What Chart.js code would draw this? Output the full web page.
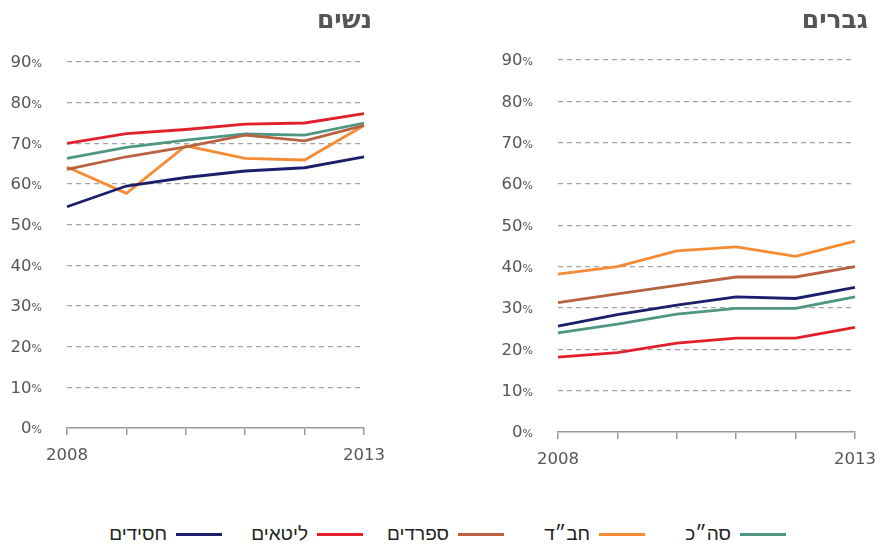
<!DOCTYPE html>
<html lang="he">
<head>
<meta charset="utf-8">
<script src="https://cdn.jsdelivr.net/npm/chart.js@4.4.1/dist/chart.umd.min.js"></script>
<style>
  html, body { margin: 0; padding: 0; background: #fff; width: 884px; height: 544px; overflow: hidden; }
  .panel { position: absolute; top: 0; width: 440px; height: 480px; }
  #legend { position: absolute; top: 522px; right: 98px; height: 24px; display: flex; flex-direction: row; }
  .item { width: 141px; display: flex; flex-direction: row-reverse; align-items: center; justify-content: flex-start; }
  .item .swatch { width: 46px; height: 3px; margin-left: 9px; }
  .item .lbl { font-family: "Liberation Sans", Arial, sans-serif; font-size: 19px; color: #222; direction: rtl; }
</style>
</head>
<body>
<div class="panel" style="left:0"><canvas id="women" width="440" height="480"></canvas></div>
<div class="panel" style="left:491px"><canvas id="men" width="440" height="480"></canvas></div>
<div id="legend"></div>
<script>
// ---- data ----
const years = ['2008', '2009', '2010', '2011', '2012', '2013'];
const seriesNames = ['חסידים', 'ליטאים', 'ספרדים', 'חב״ד', 'סה״כ'];
const yTickValues = [0, 10, 20, 30, 40, 50, 60, 70, 80, 90];
const panelTitles = ['נשים', 'גברים'];

const womenHasidim  = [54.4, 59.5, 61.6, 63.2, 64.0, 66.7];
const womenLitaim   = [70.0, 72.4, 73.4, 74.7, 75.0, 77.3];
const womenSfaradim = [63.6, 66.7, 69.1, 72.0, 70.6, 74.4];
const womenChabad   = [64.2, 57.7, 69.4, 66.3, 65.9, 74.4];
const womenTotal    = [66.3, 69.0, 70.8, 72.3, 72.0, 75.0];

const menHasidim  = [25.6, 28.4, 30.7, 32.7, 32.3, 35.0];
const menLitaim   = [18.1, 19.2, 21.5, 22.7, 22.7, 25.3];
const menSfaradim = [31.3, 33.4, 35.5, 37.5, 37.5, 40.0];
const menChabad   = [38.2, 40.0, 43.8, 44.8, 42.5, 46.2];
const menTotal    = [24.0, 26.1, 28.5, 29.9, 29.9, 32.7];

// ---- styles ----
const colors = ['#1b1f6b', '#e2202c', '#b9623f', '#f68b33', '#4f9683'];
const textColor = '#555';
const numFont = '"DejaVu Sans", Verdana, sans-serif';

function makeDatasets(arrs) {
  return arrs.map((d, i) => ({
    label: seriesNames[i],
    data: d,
    borderColor: colors[i],
    backgroundColor: colors[i],
    borderWidth: 2.8,
    pointRadius: 0,
    tension: 0,
    fill: false
  }));
}

// draws y tick labels with a smaller % sign, and the panel title
const decorPlugin = {
  id: 'decor',
  afterDraw(chart, args, opts) {
    const ctx = chart.ctx;
    const ys = chart.scales.y;
    const area = chart.chartArea;
    ctx.save();
    ctx.fillStyle = textColor;
    ctx.textBaseline = 'middle';
    ys.ticks.forEach(t => {
      const y = ys.getPixelForValue(t.value) + 1;
      const right = area.left - 25;
      ctx.font = '11px ' + numFont;
      const pw = ctx.measureText('%').width;
      ctx.textAlign = 'right';
      ctx.fillText('%', right, y + 1);
      ctx.font = '16.5px ' + numFont;
      ctx.fillText(String(t.value), right - pw, y);
    });
    ctx.font = 'bold 25px "DejaVu Sans", sans-serif';
    ctx.textAlign = 'right';
    ctx.fillStyle = '#555';
    ctx.fillText(opts.title, area.right + opts.titleOffset, 21);
    ctx.restore();
  }
};

function makeChart(id, arrs, title, topPad, bottomH, titleOffset) {
  return new Chart(document.getElementById(id), {
    type: 'line',
    data: { labels: years, datasets: makeDatasets(arrs) },
    plugins: [decorPlugin],
    options: {
      responsive: false,
      animation: false,
      events: [],
      layout: { padding: { top: topPad, right: 76, left: 0, bottom: 0 } },
      plugins: {
        legend: { display: false },
        tooltip: { enabled: false },
        title: { display: false },
        decor: { title: title, titleOffset: titleOffset }
      },
      scales: {
        x: {
          type: 'category',
          offset: false,
          afterFit(s) { s.height = bottomH; },
          border: { display: true, color: '#9a9a9a', width: 1.5 },
          grid: { display: true, drawOnChartArea: false, drawTicks: true, tickLength: 7, color: '#9a9a9a', lineWidth: 1.5 },
          ticks: {
            autoSkip: false, maxRotation: 0, padding: 11, color: textColor,
            font: { family: numFont, size: 16.5 },
            callback(v, i) { return (i === 0 || i === years.length - 1) ? years[i] : ''; }
          }
        },
        y: {
          min: 0, max: 90,
          afterFit(s) { s.width = 67; },
          afterBuildTicks(s) { s.ticks = yTickValues.map(v => ({ value: v })); },
          grid: {
            drawTicks: false,
            color: c => (c.tick && c.tick.value === 0) ? 'rgba(0,0,0,0)' : '#a3a3a3',
            lineWidth: 1.3
          },
          border: { display: false, dash: [5, 4] },
          ticks: { display: false }
        }
      }
    }
  });
}

makeChart('women', [womenHasidim, womenLitaim, womenSfaradim, womenChabad, womenTotal], panelTitles[0], 62, 52, 8);
makeChart('men', [menHasidim, menLitaim, menSfaradim, menChabad, menTotal], panelTitles[1], 60, 48, 13);

// ---- legend ----
const leg = document.getElementById('legend');
seriesNames.forEach((n, i) => {
  const it = document.createElement('div');
  it.className = 'item';
  const sw = document.createElement('div');
  sw.className = 'swatch';
  sw.style.background = colors[i];
  const lb = document.createElement('span');
  lb.className = 'lbl';
  lb.textContent = n;
  it.appendChild(sw);
  it.appendChild(lb);
  leg.appendChild(it);
});
</script>
</body>
</html>
